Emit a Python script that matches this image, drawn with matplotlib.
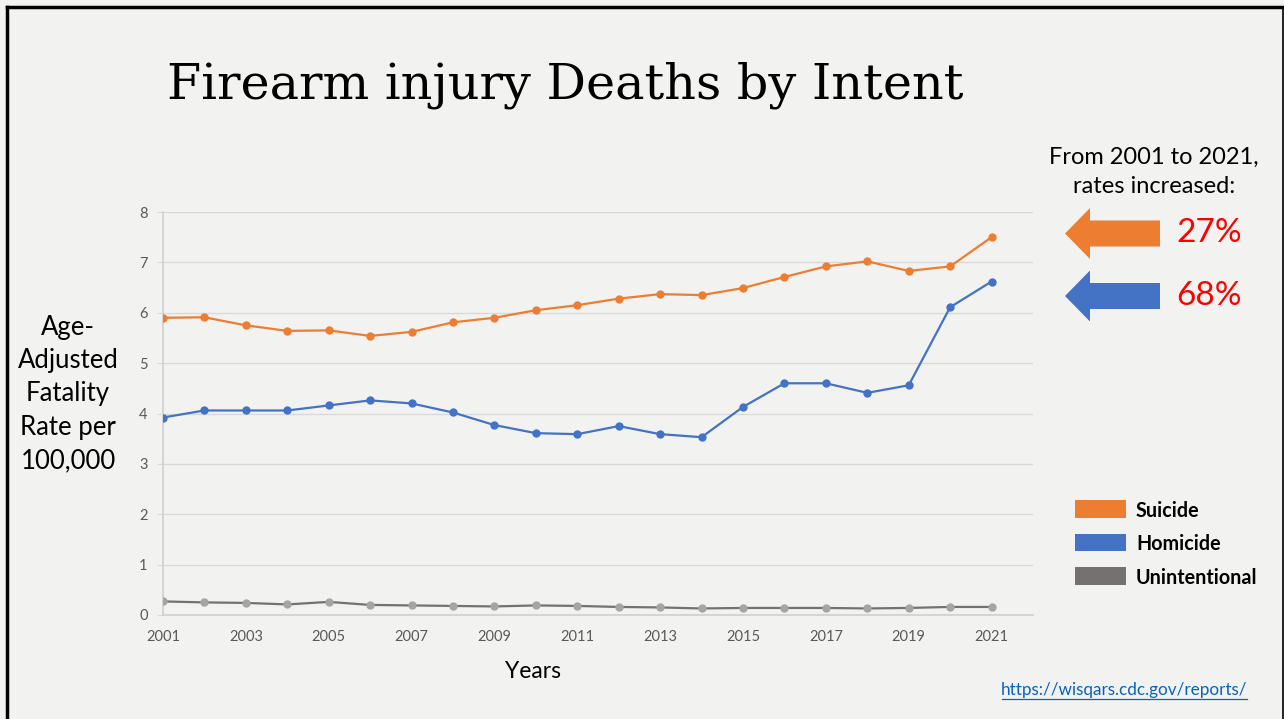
import matplotlib.pyplot as plt
from matplotlib.patches import FancyArrow, Rectangle

years = list(range(2001, 2022))
suicide = [5.90, 5.91, 5.75, 5.64, 5.65, 5.54, 5.62, 5.81, 5.90, 6.05, 6.15,
           6.28, 6.37, 6.35, 6.49, 6.71, 6.92, 7.02, 6.83, 6.92, 7.50]
homicide = [3.92, 4.06, 4.06, 4.06, 4.16, 4.26, 4.20, 4.02, 3.77, 3.61, 3.59,
            3.75, 3.59, 3.53, 4.13, 4.60, 4.60, 4.41, 4.56, 6.11, 6.62]
unintentional = [0.27, 0.25, 0.24, 0.21, 0.26, 0.20, 0.19, 0.18, 0.17, 0.19, 0.18,
                 0.16, 0.15, 0.13, 0.14, 0.14, 0.14, 0.13, 0.14, 0.16, 0.16]
xtick_years = list(range(2001, 2022, 2))
series_names = ["Suicide", "Homicide", "Unintentional"]
increase_labels = ["27%", "68%"]

ORANGE = "#ed7d31"
BLUE = "#4472c4"
GRAY_LINE = "#767171"
GRAY_MARK = "#a5a5a5"
BG = "#f2f3f1"
W, H = 1284, 719

plt.rcParams["font.family"] = ["Lato", "DejaVu Sans"]

fig = plt.figure(figsize=(W / 100, H / 100), dpi=100, facecolor=BG)

# chart area in pixel terms
left, right, top, bottom = 163, 1033, 212, 615
ax = fig.add_axes([left / W, 1 - bottom / H, (right - left) / W, (bottom - top) / H])
ax.set_facecolor(BG)

ax.plot(years, suicide, color=ORANGE, lw=1.6, marker="o", ms=5, zorder=3)
ax.plot(years, homicide, color=BLUE, lw=1.6, marker="o", ms=5, zorder=3)
ax.plot(years, unintentional, color=GRAY_LINE, lw=1.6, marker="o", ms=5,
        mfc=GRAY_MARK, mec=GRAY_MARK, zorder=3)

ax.set_xlim(2001, 2022)
ax.set_ylim(0, 8)
ax.set_xticks(xtick_years)
ax.set_yticks(range(0, 9))
ax.tick_params(axis="both", colors="#595959", labelsize=10.5, length=0)
ax.tick_params(axis="x", pad=11)
ax.tick_params(axis="y", length=4, color="#d9d9d9", pad=7)
ax.grid(axis="y", color="#d9d9d9", lw=1)
for s in ("top", "right"):
    ax.spines[s].set_visible(False)
for s in ("left", "bottom"):
    ax.spines[s].set_color("#d0d0d0")
    ax.spines[s].set_linewidth(1.2)

# overlay in pixel coordinates for slide decorations
ov = fig.add_axes([0, 0, 1, 1], facecolor="none")
ov.set_xlim(0, W)
ov.set_ylim(H, 0)
ov.axis("off")

# slide border
ov.plot([6.5, 6.5], [H, 6.5], color="black", lw=2.5)
ov.plot([6.5, W - 1], [6.5, 6.5], color="black", lw=2.5)
ov.plot([W - 1.5, W - 1.5], [6.5, H], color="black", lw=1.2)

ov.text(167, 85, "Firearm injury Deaths by Intent", fontsize=35.5,
        family="DejaVu Serif", va="center", ha="left", color="black")

ov.text(68, 394, "Age-\nAdjusted\nFatality\nRate per\n100,000", fontsize=18.5,
        ha="center", va="center", linespacing=1.42, color="black")
ov.text(533, 672, "Years", fontsize=16.5, ha="center", va="center", color="black")

ov.text(1154, 172, "From 2001 to 2021,\nrates increased:", fontsize=17,
        ha="center", va="center", linespacing=1.5, color="black")

for yc, col, lab in [(233.5, ORANGE, increase_labels[0]), (296, BLUE, increase_labels[1])]:
    ov.add_patch(FancyArrow(1160, yc, -95, 0, width=26, head_width=51, head_length=25,
                            length_includes_head=True, color=col, lw=0))
    ov.text(1176, yc, lab, fontsize=24, color="#ff0000", ha="left", va="center")

legend_colors = [ORANGE, BLUE, GRAY_LINE]
for i, (name, col) in enumerate(zip(series_names, legend_colors)):
    y0 = 500 + i * 33.5
    ov.add_patch(Rectangle((1075, y0), 51, 17.5, color=col, lw=0))
    ov.text(1136, y0 + 11, name, fontsize=14.2, fontweight="bold",
            ha="left", va="center", color="black")

ov.text(1247, 690, "https://wisqars.cdc.gov/reports/", fontsize=12.3,
        color="#0563c1", ha="right", va="center")
ov.plot([1002, 1247], [698.5, 698.5], color="#0563c1", lw=0.9)

fig.savefig("out.png", dpi=100, facecolor=BG)
